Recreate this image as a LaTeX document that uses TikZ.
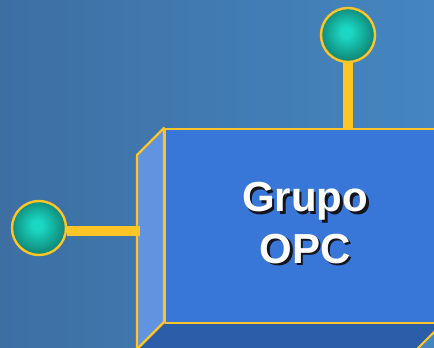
\documentclass[tikz,border=0pt]{standalone}
\usepackage{fontspec}
\setmainfont{Liberation Sans}
\definecolor{bgL}{RGB}{61,111,163}
\definecolor{bgR}{RGB}{69,134,192}
\definecolor{edge}{RGB}{255,196,38}
\definecolor{faceFront}{RGB}{56,119,215}
\definecolor{faceSide}{RGB}{96,148,224}
\definecolor{faceBottom}{RGB}{43,94,169}
\definecolor{ballIn}{RGB}{26,214,194}
\definecolor{ballMid}{RGB}{16,140,124}
\definecolor{ballOut}{RGB}{8,62,54}
\definecolor{shadowc}{RGB}{20,20,30}
\pgfdeclareradialshading{ball}{\pgfpoint{-2bp}{3bp}}{%
  color(0bp)=(ballIn); color(5bp)=(ballIn); color(24bp)=(ballMid); color(46bp)=(ballOut); color(50bp)=(ballOut)}
\newcommand\shadowed[1]{\rlap{\kern2pt\raisebox{-2pt}{\color{shadowc}#1}}#1}
\tikzset{
  outline/.style={draw=edge, line width=1.6pt, line join=round},
  port/.style={circle, minimum size=40.5pt, inner sep=0pt, shading=ball,
    draw=edge, line width=1.8pt},
  stem/.style={draw=edge, line width=7.5pt, line cap=butt},
  label/.style={text=white, font=\bfseries\fontsize{31.5}{38}\selectfont,
    inner sep=0pt, anchor=base},
}
\begin{document}
\begin{tikzpicture}[x=0.75pt, y=-0.75pt]
  \useasboundingbox (0,0) rectangle (434,348);
  \clip (0,0) rectangle (434,348);
  % background
  \shade[left color=bgL, right color=bgR] (0,0) rectangle (434,348);
  % box: bottom face, side face, front face
  \path[outline, fill=faceBottom] (164,322) -- (444,322) -- (416,350) -- (136,350) -- cycle;
  \path[outline, fill=faceSide] (137,155) -- (164,128) -- (164,322) -- (136,350) -- (137,350) -- cycle;
  \node[outline, fill=faceFront, rectangle, inner sep=0pt, anchor=north west,
    minimum width=216pt, minimum height=145.5pt] (box) at (164,128) {};
  \coordinate (sidepin) at (140,231.5);
  % ports
  \node[port] (ptop) at (348,35) {};
  \node[port] (pleft) at (39,228) {};
  \draw[stem] (ptop.south) -- (ptop.south |- box.north);
  \draw[stem] (pleft.east |- sidepin) -- (sidepin);
  % title
  \node[label] (t1) at (305,212) {\shadowed{Grupo}};
  \node[label] (t2) at (305,263) {\shadowed{OPC}};
\end{tikzpicture}
\end{document}
